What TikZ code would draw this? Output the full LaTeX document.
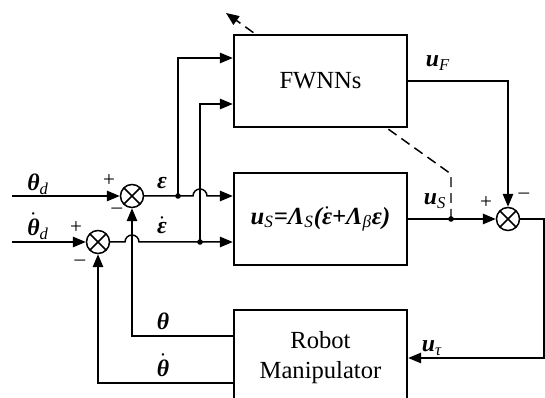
\documentclass[tikz,border=0pt]{standalone}
\usepackage{fontspec}
\setmainfont{Liberation Serif}
\usetikzlibrary{arrows.meta,calc}
\newcommand\sub[1]{\textsubscript{\mdseries #1}}
\newcommand\dt[1]{$\dot{\mbox{#1}}$}
\tikzset{
  block/.style={draw, line width=1.4pt, fill=white, minimum width=3.46cm, align=center, font=\fontsize{14}{17}\selectfont},
  sumnode/.style={draw, circle, fill=white, minimum size=0.46cm, inner sep=0pt,
    path picture={\draw (path picture bounding box.north west) -- (path picture bounding box.south east)
      (path picture bounding box.south west) -- (path picture bounding box.north east);}},
  sig/.style={font=\fontsize{13.5}{16}\selectfont\bfseries\itshape, inner sep=0pt},
  sgn/.style={font=\fontsize{12}{14}\selectfont, inner sep=0pt},
  adapt/.style={dash pattern=on 0.2cm off 0.12cm}
}
\begin{document}
\begin{tikzpicture}[x=0.02cm, y=-0.02cm, line width=0.85pt, >={Triangle[length=0.26cm,width=0.21cm]}]
\useasboundingbox (0,0) rectangle (545,398);
\coordinate (in1) at (12,196);
\coordinate (in2) at (12,242);
\coordinate (edot) at (178,196);
\coordinate (eddot) at (200,242);
\coordinate (usdot) at (451,219);
\coordinate (bend) at (451,174);
\coordinate (tune) at (226,13);
\coordinate (corner) at (544,219);
\draw[adapt, ->] (usdot) -- (bend) -- (tune);
\node[block, minimum height=1.84cm] (fwnn) at (320.5,81) {FWNNs};
\node[block, minimum height=1.84cm, font=\fontsize{14}{17}\selectfont\bfseries\itshape] (ctrl) at (320.5,219) {u\sub{S}=Λ\sub{S}(\dt{ε}+Λ\sub{β}ε)};
\node[block, minimum height=1.92cm] (robot) at (320.5,358) {Robot\\Manipulator};
\node[sumnode] (s1) at (132,196) {};
\node[sumnode] (s2) at (98,242) {};
\node[sumnode] (s3) at (508,219) {};

\draw[->] (in1) -- (s1);
\draw[->] (in2) -- (s2);
\draw[->] (s1) -- ($(eddot |- s1)+(-7,0)$) arc[start angle=180, end angle=0, radius=0.14cm] -- (ctrl.west |- s1);
\draw[->] (s2) -- ($(s1 |- s2)+(-7,0)$) arc[start angle=180, end angle=0, radius=0.14cm] -- (ctrl.west |- s2);
\draw[->] (edot) |- ($(fwnn.west)+(0,-23)$);
\draw[->] (eddot) |- ($(fwnn.west)+(0,23)$);
\fill (edot) circle[radius=1.6pt];
\fill (eddot) circle[radius=1.6pt];
\draw[->] ($(robot.west)+(0,-22)$) -| (s1);
\draw[->] ($(robot.west)+(0,25)$) -| (s2);
\draw[->] (fwnn) -| (s3);
\draw[->] (ctrl) -- (s3);
\fill (usdot) circle[radius=1.6pt];
\draw[->] (s3) -- (corner) |- (robot);

\node[sig] (lthd) at (38,184) {θ\sub{d}};
\node[sig] (lthdd) at (38,226) {\dt{θ}\sub{d}};
\node[sig] (leps) at (162,183) {ε};
\node[sig] (lepsd) at (162,225) {\dt{ε}};
\node[sig] (lth) at (163,321) {θ};
\node[sig] (lthdot) at (163,365) {\dt{θ}};
\node[sig] (luf) at (438,63) {u\sub{F}};
\node[sig] (lus) at (435,201) {u\sub{S}};
\node[sig] (lut) at (432,348) {u\sub{τ}};
\node[sgn] (p1) at (109,181) {+};
\node[sgn] (m1) at (117,211) {–};
\node[sgn] (p2) at (76,228) {+};
\node[sgn] (m2) at (80,263) {–};
\node[sgn] (p3) at (486,203) {+};
\node[sgn] (m3) at (524,196) {–};
\end{tikzpicture}
\end{document}
